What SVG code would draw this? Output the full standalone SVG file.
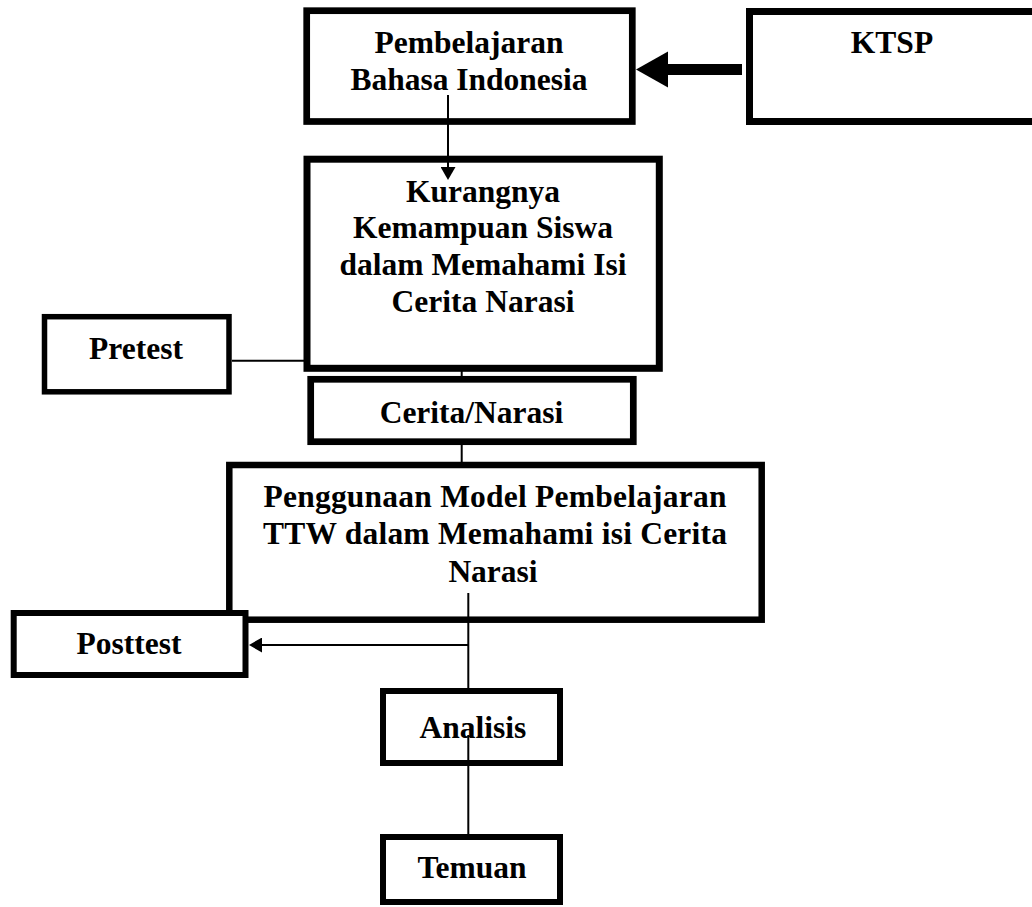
<svg xmlns="http://www.w3.org/2000/svg" width="1032" height="907" viewBox="0 0 1032 907">
<style>
.box{fill:#fff;stroke:#000}
.t{font-family:"Liberation Serif","Times New Roman",serif;font-weight:bold;font-size:31.5px;fill:#000;text-anchor:middle}
.c{fill:none;stroke:#000;stroke-width:2}
</style>
<defs>
<marker id="ah" markerUnits="userSpaceOnUse" markerWidth="14" markerHeight="15" refX="1" refY="7.5" orient="auto">
<path d="M0,0 L13,7.5 L0,15 z" fill="#000"/>
</marker>
<marker id="ahBig" markerUnits="userSpaceOnUse" markerWidth="33" markerHeight="37" refX="1" refY="18" orient="auto">
<path d="M0,0 L32,18 L0,36 z" fill="#000"/>
</marker>
</defs>
<rect width="1032" height="907" fill="#fff"/>
<g id="pembelajaran">
<rect class="box" x="306.7" y="10.7" width="325.6" height="110.8" stroke-width="6.7"/>
<text class="t" x="469" y="53">Pembelajaran</text>
<text class="t" x="469" y="90">Bahasa Indonesia</text>
</g>
<g id="ktsp">
<rect class="box" x="749.5" y="11.5" width="300" height="110" stroke-width="7"/>
<text class="t" x="892" y="53">KTSP</text>
</g>
<g id="kurangnya">
<rect class="box" x="307" y="159.2" width="352.3" height="209.1" stroke-width="7"/>
<text class="t" x="483" y="201.7">Kurangnya</text>
<text class="t" x="483" y="238.3">Kemampuan Siswa</text>
<text class="t" x="483" y="275">dalam Memahami Isi</text>
<text class="t" x="483" y="311.7">Cerita Narasi</text>
</g>
<g id="pretest">
<rect class="box" x="44.5" y="316.7" width="184.5" height="75.1" stroke-width="5.5"/>
<text class="t" x="136" y="359">Pretest</text>
</g>
<g id="cerita">
<rect class="box" x="310.7" y="379.3" width="322.6" height="62.4" stroke-width="6.7"/>
<text class="t" x="471.5" y="423">Cerita/Narasi</text>
</g>
<g id="penggunaan">
<rect class="box" x="229.3" y="465" width="532.4" height="154.7" stroke-width="6.5"/>
<text class="t" x="495" y="506.7" textLength="463" lengthAdjust="spacing">Penggunaan Model Pembelajaran</text>
<text class="t" x="495" y="544.3" textLength="464" lengthAdjust="spacing">TTW dalam Memahami isi Cerita</text>
<text class="t" x="493" y="581.7">Narasi</text>
</g>
<g id="posttest">
<rect class="box" x="13.7" y="613" width="231.8" height="62" stroke-width="6"/>
<text class="t" x="129" y="654">Posttest</text>
</g>
<g id="analisis">
<rect class="box" x="383" y="691" width="177" height="72" stroke-width="6"/>
<text class="t" x="473" y="738">Analisis</text>
</g>
<g id="temuan">
<rect class="box" x="383" y="837" width="177" height="65" stroke-width="6"/>
<text class="t" x="472" y="878">Temuan</text>
</g>
<g id="connectors">
<path d="M742,69.5 H667" fill="none" stroke="#000" stroke-width="11" marker-end="url(#ahBig)"/>
<path class="c" d="M448,95 V168" marker-end="url(#ah)"/>
<path class="c" d="M232,360.7 H305" stroke-width="1.6"/>
<path class="c" d="M461.7,371 V377"/>
<path class="c" d="M461.7,444 V463"/>
<path class="c" d="M468.3,593 V689"/>
<path class="c" d="M468.3,645 H261" marker-end="url(#ah)"/>
<path class="c" d="M468.3,735 V835"/>
</g>
</svg>
